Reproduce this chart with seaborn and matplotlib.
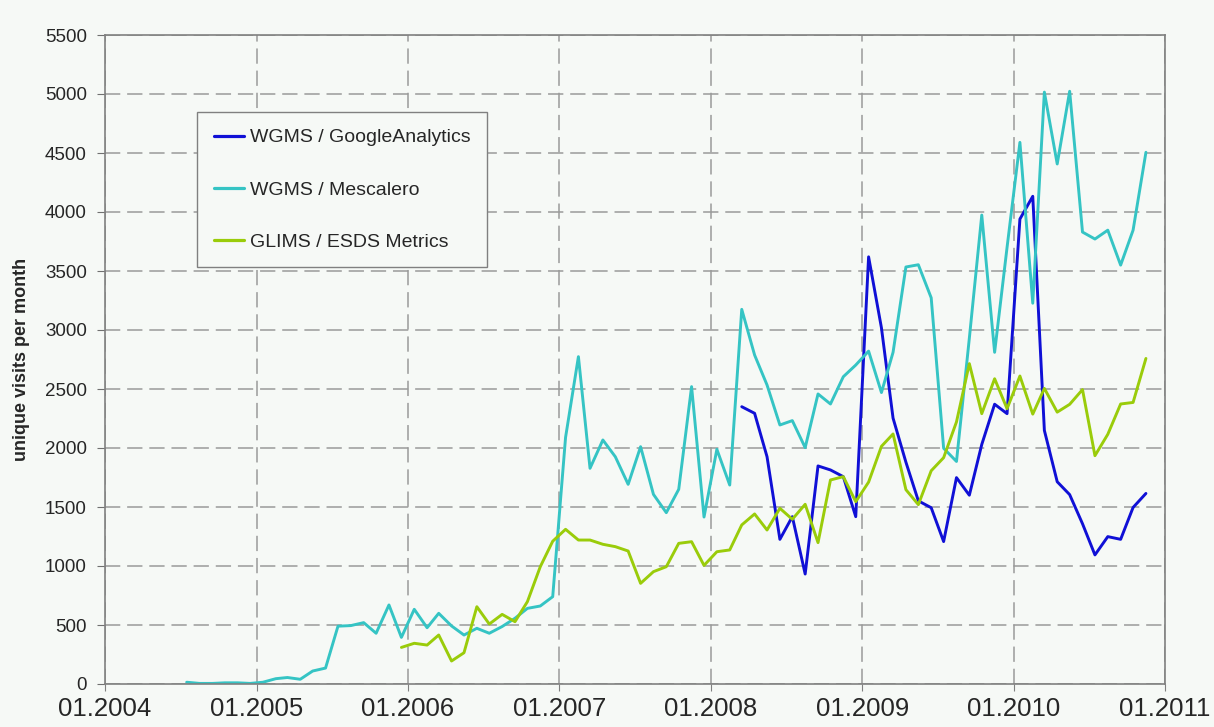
import pandas as pd
import numpy as np
import seaborn as sns
import matplotlib.pyplot as plt
import matplotlib.dates as mdates

# monthly unique visits
ga_start = "2008-03"
ga_visits = [2350, 2294, 1926, 1226, 1418, 932, 1848, 1814, 1757, 1418,
             3620, 3018, 2253, 1880, 1552, 1494, 1207, 1749, 1600, 2030, 2371, 2291,
             3940, 4133, 2149, 1714, 1605, 1358, 1094, 1249, 1226, 1496, 1615]

mesc_start = "2004-07"
mesc_visits = [15, 5, 5, 10, 10, 5,
               15, 45, 55, 40, 110, 135, 490, 495, 520, 430, 670, 395,
               633, 477, 599, 492, 415, 472, 430, 487, 557, 641, 661, 740,
               2090, 2774, 1828, 2068, 1926, 1692, 2011, 1607, 1452, 1650, 2520, 1415,
               1989, 1686, 3175, 2788, 2534, 2195, 2232, 2003, 2458, 2373, 2604, 2703,
               2821, 2470, 2811, 3534, 3553, 3273, 1998, 1886, 2930, 3974, 2811, 3700,
               4590, 3227, 5016, 4407, 5023, 3830, 3771, 3846, 3550, 3846, 4506]

glims_start = "2005-12"
glims_visits = [310,
                345, 330, 415, 195, 265, 655, 508, 590, 528, 698, 994, 1210,
                1311, 1220, 1220, 1184, 1164, 1127, 853, 952, 994, 1192, 1206, 1005,
                1121, 1136, 1348, 1441, 1305, 1489, 1396, 1523, 1198, 1729, 1757, 1545,
                1711, 2014, 2119, 1647, 1520, 1807, 1918, 2221, 2715, 2291, 2587, 2333,
                2610, 2287, 2505, 2304, 2370, 2495, 1935, 2116, 2373, 2386, 2759]

sources = ["WGMS / GoogleAnalytics", "WGMS / Mescalero", "GLIMS / ESDS Metrics"]
colors = ["#1010d6", "#35c4c4", "#9acc0a"]


def monthly(start, values, name):
    # points sit in the middle of each month
    dates = pd.date_range(start, periods=len(values), freq="MS") + pd.Timedelta(days=15)
    return pd.DataFrame({"date": dates, "visits": values, "source": name})


df = pd.concat([monthly(ga_start, ga_visits, sources[0]),
                monthly(mesc_start, mesc_visits, sources[1]),
                monthly(glims_start, glims_visits, sources[2])], ignore_index=True)

bg = "#f6f9f6"
sns.set_style("ticks")
plt.rcParams["font.family"] = ["Liberation Sans", "DejaVu Sans"]

fig = plt.figure(figsize=(12.14, 7.27), dpi=100, facecolor=bg)
ax = fig.add_axes([105 / 1214, 1 - 684 / 727, 1060 / 1214, 649 / 727])
ax.set_facecolor(bg)

sns.lineplot(data=df, x="date", y="visits", hue="source", hue_order=sources,
             palette=colors, linewidth=2.1, ax=ax)

ax.set_xlim(pd.Timestamp("2004-01-01"), pd.Timestamp("2011-01-01"))
ax.set_ylim(0, 5500)
ax.set_yticks(np.arange(0, 5501, 500))
ax.xaxis.set_major_locator(mdates.YearLocator())
ax.xaxis.set_major_formatter(mdates.DateFormatter("%m.%Y"))

ax.grid(True, color="#9a9a9a", linestyle=(0, (10, 4.5)), linewidth=1.1)
ax.set_axisbelow(True)
for side in ["top", "right", "left", "bottom"]:
    ax.spines[side].set_color("#808080")
    ax.spines[side].set_linewidth(1.2)

ax.tick_params(axis="y", labelsize=13.5, length=6, color="#707070", pad=7)
ax.tick_params(axis="x", labelsize=18.5, length=5, color="#808080", pad=4)

ax.set_xlabel("")
ax.set_ylabel("unique visits per month", fontsize=13, fontweight="bold")
ax.yaxis.set_label_coords(-0.071, 0.5)

leg = ax.legend(loc="upper left", bbox_to_anchor=(0.0868, 0.881), borderaxespad=0,
                fontsize=14, frameon=True, fancybox=False, framealpha=1,
                handlelength=1.55, handletextpad=0.3, labelspacing=1.78, borderpad=0.85)
leg.get_frame().set_facecolor(bg)
leg.get_frame().set_edgecolor("#808080")
for line in leg.get_lines():
    line.set_linewidth(2.3)

fig.savefig("out.png", dpi=100, facecolor=bg)
